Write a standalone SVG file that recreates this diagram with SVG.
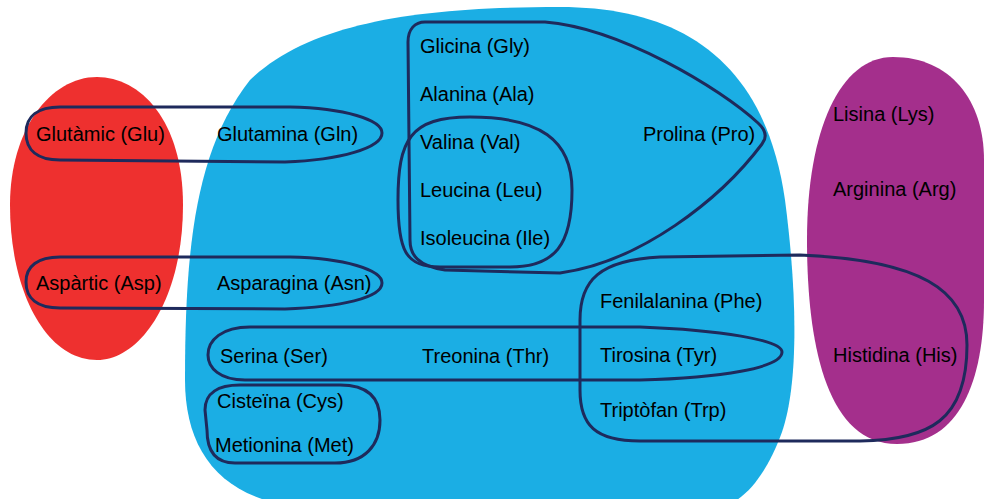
<svg xmlns="http://www.w3.org/2000/svg" width="984" height="499" viewBox="0 0 984 499">
<style>
.t{font-family:"Liberation Sans",Arial,sans-serif;font-size:20px;fill:#000}
.loop{fill:none;stroke:#1E2A5C;stroke-width:3}
</style>
<rect width="984" height="499" fill="#fff"/>
<g id="red-region"><path d="M97,77 C140,77 183,120 183,205 C183,300 140,360 97,360 C45,360 10,290 10,205 C10,130 50,77 97,77 Z" fill="#EE302F"/></g>
<g id="blue-region"><path d="M285,505 C215,492 185,445 185,380 C185,250 195,150 250,80 C310,22 420,7 560,7 C680,7 765,60 785,200 C798,300 798,385 782,432 C768,470 750,495 728,505 Z" fill="#1BAEE4"/></g>
<g id="purple-region"><path d="M893,57 C840,57 807,130 807,240 C807,340 825,444 897,444 C960,444 984,380 984,300 L984,160 C984,100 950,57 893,57 Z" fill="#A42F8C"/></g>
<g id="loops">
<path id="loop-glu-gln" class="loop" d="M60,107 L290,107 C345,108 382,120 382,133 C382,148 340,160 285,162 L60,160 C37,160 26,150 26,133 C26,116 38,107 60,107 Z"/>
<path id="loop-asp-asn" class="loop" d="M60,257 L290,257 C345,258 382,270 382,283 C382,298 340,307 285,309 L60,308 C37,308 26,298 26,282 C26,266 38,257 60,257 Z"/>
<path id="loop-gly-pro" class="loop" d="M425,22 L545,22 C620,28 720,88 758,123 Q770,134 762,144 C720,200 640,262 560,273 L445,270 C418,266 410,255 410,240 L408,42 C408,29 415,22 425,22 Z"/>
<path id="loop-val-ile" class="loop" d="M470,117 C540,117 572,140 572,190 C572,245 555,267 510,267 L440,267 C405,267 398,250 398,200 C398,140 410,117 470,117 Z"/>
<path id="loop-ser-tyr" class="loop" d="M250,327 L640,327 C720,330 782,340 782,352 C782,368 720,378 640,380 L245,380 C220,380 208,368 208,355 C208,340 222,327 250,327 Z"/>
<path id="loop-cys-met" class="loop" d="M240,385 L340,385 C370,385 380,400 380,420 C380,445 365,463 335,463 L235,463 C215,463 207,450 207,430 L205,410 C205,393 218,385 240,385 Z"/>
<path id="loop-aromatic-his" class="loop" d="M660,257 L800,255 C920,260 967,290 967,345 C967,420 930,440 860,441 L640,441 C595,441 580,425 580,390 L580,320 C580,280 600,260 660,257 Z"/>
</g>
<g id="labels">
<g id="glu"><text class="t" x="36" y="141">Glutàmic (Glu)</text></g>
<g id="gln"><text class="t" x="217" y="141">Glutamina (Gln)</text></g>
<g id="asp"><text class="t" x="36" y="290">Aspàrtic (Asp)</text></g>
<g id="asn"><text class="t" x="217" y="290">Asparagina (Asn)</text></g>
<g id="gly"><text class="t" x="420" y="53">Glicina (Gly)</text></g>
<g id="ala"><text class="t" x="420" y="101">Alanina (Ala)</text></g>
<g id="val"><text class="t" x="420" y="149">Valina (Val)</text></g>
<g id="leu"><text class="t" x="420" y="197">Leucina (Leu)</text></g>
<g id="ile"><text class="t" x="420" y="245">Isoleucina (Ile)</text></g>
<g id="pro"><text class="t" x="643" y="141">Prolina (Pro)</text></g>
<g id="lys"><text class="t" x="833" y="121">Lisina (Lys)</text></g>
<g id="arg"><text class="t" x="833" y="196">Arginina (Arg)</text></g>
<g id="phe"><text class="t" x="600" y="308">Fenilalanina (Phe)</text></g>
<g id="tyr"><text class="t" x="600" y="362">Tirosina (Tyr)</text></g>
<g id="trp"><text class="t" x="600" y="417">Triptòfan (Trp)</text></g>
<g id="his"><text class="t" x="833" y="362">Histidina (His)</text></g>
<g id="ser"><text class="t" x="220" y="363">Serina (Ser)</text></g>
<g id="thr"><text class="t" x="422" y="363">Treonina (Thr)</text></g>
<g id="cys"><text class="t" x="217" y="408">Cisteïna (Cys)</text></g>
<g id="met"><text class="t" x="215" y="452">Metionina (Met)</text></g>
</g>
</svg>
